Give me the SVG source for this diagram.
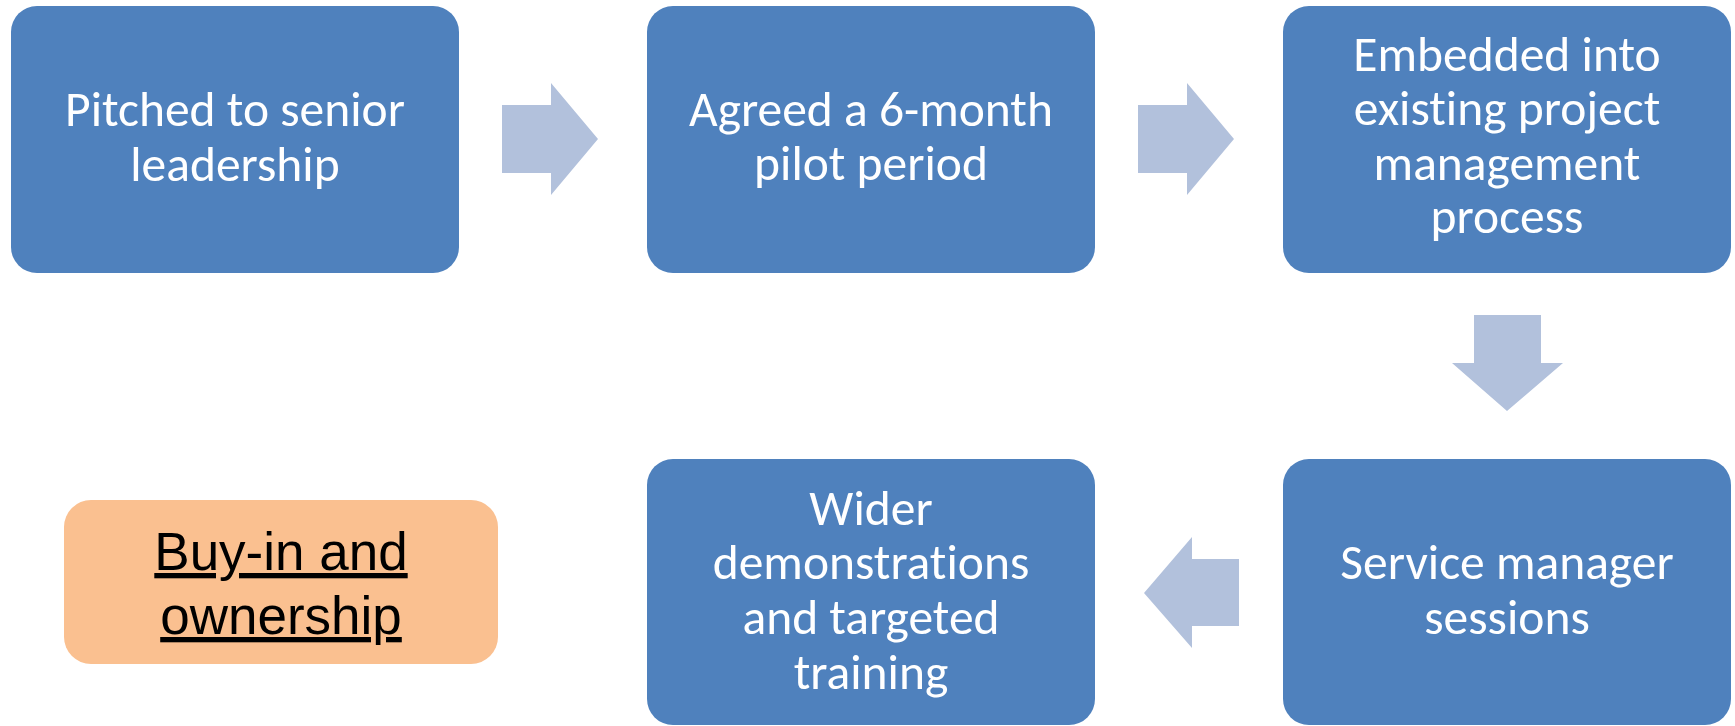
<svg xmlns="http://www.w3.org/2000/svg" width="1735" height="726" viewBox="0 0 1735 726">
<style>
.box{fill:#4F81BD;}
.arr{fill:#B2C1DC;}
.t{font-family:Carlito,Calibri,Lato,sans-serif;font-size:49.5px;fill:#FFFFFF;text-anchor:middle;font-variant-ligatures:none;}
.o{font-family:"Liberation Sans",Arial,sans-serif;font-size:53px;fill:#000000;text-anchor:middle;text-decoration:underline;}
</style>
<rect x="0" y="0" width="1735" height="726" fill="#FFFFFF"/>
<g id="connectors">
<polygon class="arr" points="502,105 551,105 551,83 598,139 551,195 551,173 502,173"/>
<polygon class="arr" points="1138,105 1187,105 1187,83 1234,139 1187,195 1187,173 1138,173"/>
<polygon class="arr" points="1474,315 1541,315 1541,363 1563,363 1507,411 1452,363 1474,363"/>
<polygon class="arr" points="1239,559 1192,559 1192,537 1144,593 1192,648 1192,626 1239,626"/>
</g>
<g id="n1">
<rect class="box" x="11" y="6" width="448" height="267" rx="26"/>
<text class="t"><tspan x="235" y="126">Pitched to senior</tspan><tspan x="235" y="181">leadership</tspan></text>
</g>
<g id="n2">
<rect class="box" x="647" y="6" width="448" height="267" rx="26"/>
<text class="t"><tspan x="871" y="126">Agreed a 6-month</tspan><tspan x="871" y="180">pilot period</tspan></text>
</g>
<g id="n3">
<rect class="box" x="1283" y="6" width="448" height="267" rx="26"/>
<text class="t"><tspan x="1507" y="71">Embedded into</tspan><tspan x="1507" y="125">existing project</tspan><tspan x="1507" y="180">management</tspan><tspan x="1507" y="233">process</tspan></text>
</g>
<g id="n4">
<rect class="box" x="1283" y="459" width="448" height="266" rx="26"/>
<text class="t"><tspan x="1507" y="579">Service manager</tspan><tspan x="1507" y="634">sessions</tspan></text>
</g>
<g id="n5">
<rect class="box" x="647" y="459" width="448" height="266" rx="26"/>
<text class="t"><tspan x="871" y="525">Wider</tspan><tspan x="871" y="579">demonstrations</tspan><tspan x="871" y="634">and targeted</tspan><tspan x="871" y="689">training</tspan></text>
</g>
<g id="n6">
<rect x="64" y="500" width="434" height="164" rx="27" fill="#FAC090"/>
<text class="o"><tspan x="281" y="570">Buy-in and</tspan><tspan x="281" y="634">ownership</tspan></text>
</g>
</svg>
